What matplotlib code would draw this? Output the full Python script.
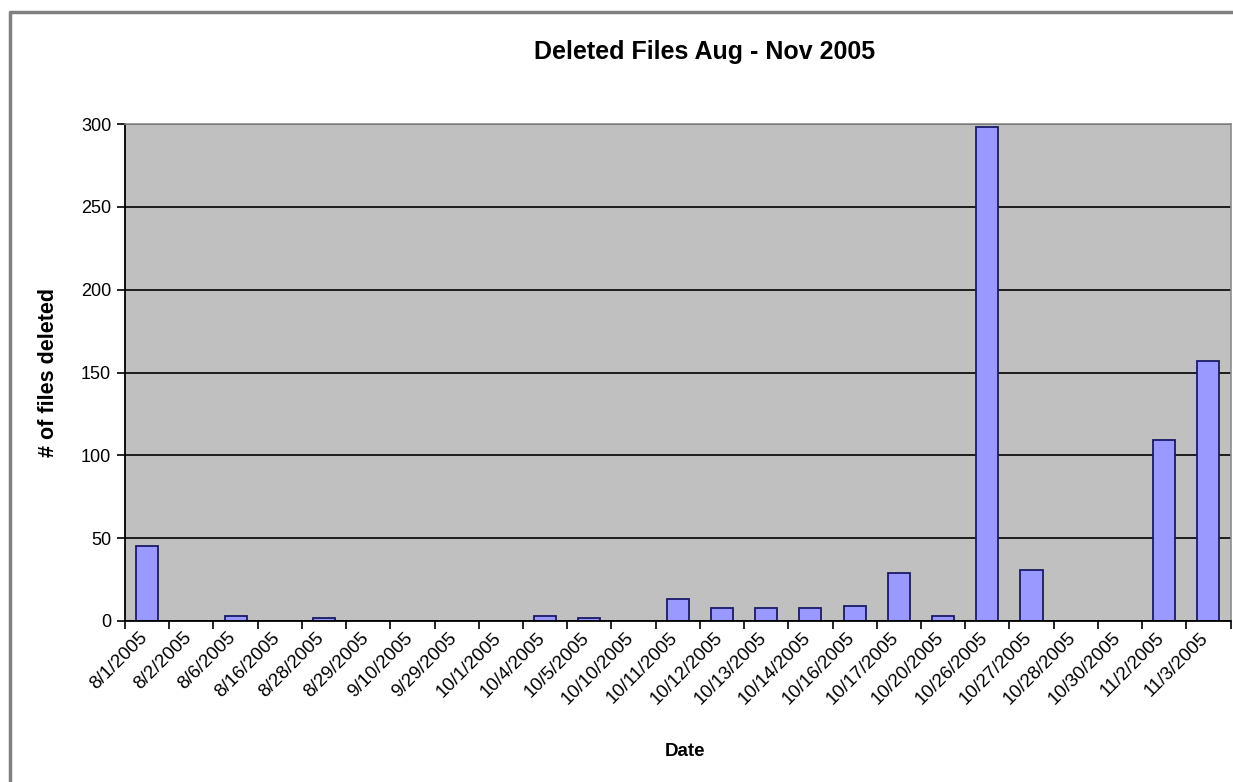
import numpy as np
import matplotlib.pyplot as plt
from matplotlib.lines import Line2D
from matplotlib.transforms import ScaledTranslation

plt.rcParams['font.family'] = ['Liberation Sans', 'DejaVu Sans']

# 每天删除的文件数
dates = ['8/1/2005', '8/2/2005', '8/6/2005', '8/16/2005', '8/28/2005',
         '8/29/2005', '9/10/2005', '9/29/2005', '10/1/2005', '10/4/2005',
         '10/5/2005', '10/10/2005', '10/11/2005', '10/12/2005', '10/13/2005',
         '10/14/2005', '10/16/2005', '10/17/2005', '10/20/2005', '10/26/2005',
         '10/27/2005', '10/28/2005', '10/30/2005', '11/2/2005', '11/3/2005']
deleted = [45, 0, 3, 0, 2, 0, 0, 0, 0, 3, 2, 0, 13, 8, 8, 8, 9, 29, 3, 298,
           31, 0, 0, 109, 157]
y_ticks = [0, 50, 100, 150, 200, 250, 300]

fig = plt.figure(figsize=(12.33, 7.82), dpi=100)
ax = fig.add_axes([0.1014, 0.2059, 0.8966, 0.6355])
ax.set_facecolor('#c0c0c0')

x = np.arange(len(dates))
ax.bar(x, deleted, width=0.5, color='#9999ff', edgecolor='#1a1a66', linewidth=1.3, zorder=2)

ax.set_xlim(-0.5, len(dates) - 0.5)
ax.set_ylim(0, 300)
ax.set_yticks(y_ticks)
ax.yaxis.grid(True, color='black', linewidth=1.2, zorder=1)
ax.set_axisbelow(True)

# 标签放在类别中心，刻度线放在类别之间
ax.set_xticks(x)
ax.set_xticklabels(dates, rotation=45, ha='right', va='top', rotation_mode='anchor', fontsize=13.5)
ax.set_xticks(np.arange(len(dates) + 1) - 0.5, minor=True)
ax.tick_params(axis='x', which='major', length=0, pad=6)
ax.tick_params(axis='x', which='minor', length=6, width=1.2, direction='out')
ax.tick_params(axis='y', length=6, width=1.2, labelsize=13, pad=4)
shift = ScaledTranslation(-6 / 72, 0, fig.dpi_scale_trans)
for lab in ax.get_xticklabels():
    lab.set_transform(lab.get_transform() + shift)

for s in ['left', 'bottom']:
    ax.spines[s].set_color('black')
    ax.spines[s].set_linewidth(1.3)
for s in ['top', 'right']:
    ax.spines[s].set_color('#8c8c8c')
    ax.spines[s].set_linewidth(1.2)

ax.set_ylabel('# of files deleted', fontsize=15.5, fontweight='bold', labelpad=16)
fig.text(685 / 1233, 1 - 752 / 782, 'Date', fontsize=13.5, fontweight='bold', ha='center', va='center')
fig.text(705 / 1233, 1 - 52 / 782, 'Deleted Files Aug - Nov 2005', fontsize=18, fontweight='bold',
         ha='center', va='center')

# 图表外框
fx = 10 / 1233
fy = 1 - 12 / 782
fig.add_artist(Line2D([fx, fx, 1], [0, fy, fy], color='#808080', linewidth=2.5))

plt.savefig('out.png', dpi=100)
